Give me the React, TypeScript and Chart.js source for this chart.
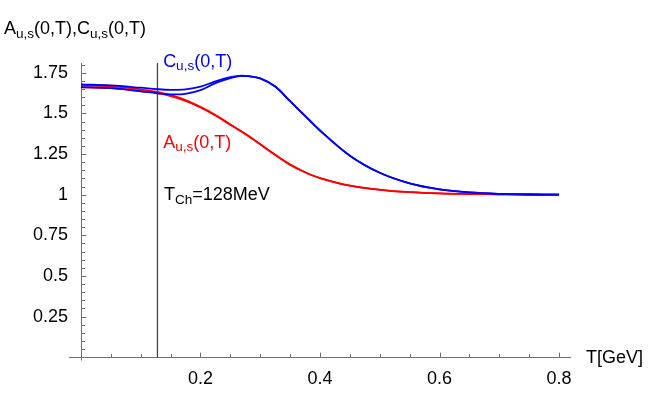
import React, { useEffect, useRef } from "react";
import { Chart, registerables } from "chart.js";
Chart.register(...registerables);

// Temperature grid (GeV)
const T = [0, 0.05, 0.1, 0.128, 0.15, 0.175, 0.2, 0.225, 0.25, 0.265, 0.28, 0.3, 0.325, 0.35, 0.375, 0.4, 0.45, 0.5, 0.55, 0.6, 0.65, 0.7, 0.75, 0.8];
// C_u(0,T), C_s(0,T)  (blue)
const C_U = [1.678, 1.672, 1.658, 1.649, 1.645, 1.648, 1.664, 1.697, 1.723, 1.731, 1.729, 1.715, 1.665, 1.575, 1.485, 1.395, 1.24, 1.135, 1.07, 1.033, 1.014, 1.005, 1.001, 1.0];
const C_S = [1.661, 1.655, 1.636, 1.624, 1.617, 1.62, 1.643, 1.686, 1.717, 1.729, 1.729, 1.715, 1.665, 1.575, 1.485, 1.395, 1.24, 1.135, 1.07, 1.033, 1.014, 1.005, 1.001, 1.0];
// A_u(0,T), A_s(0,T)  (red)
const A_U = [1.672, 1.666, 1.648, 1.632, 1.612, 1.582, 1.54, 1.49, 1.432, 1.398, 1.362, 1.31, 1.245, 1.185, 1.138, 1.102, 1.055, 1.03, 1.016, 1.008, 1.004, 1.002, 1.001, 1.0];
const A_S = [1.66, 1.655, 1.638, 1.624, 1.606, 1.577, 1.536, 1.487, 1.43, 1.397, 1.361, 1.31, 1.245, 1.185, 1.138, 1.102, 1.055, 1.03, 1.016, 1.008, 1.004, 1.002, 1.001, 1.0];
// Chiral temperature marker
const T_CH = 0.128;
const T_CH_LINE_Y = [0, 1.81];

const X_TICKS = [0.2, 0.4, 0.6, 0.8];
const Y_TICKS = [0.25, 0.5, 0.75, 1, 1.25, 1.5, 1.75];
const MINOR_STEP = 0.05;

const FONT = '"Liberation Sans", Arial, Helvetica, sans-serif';
const BLUE = "#0000ff";
const RED = "#ff0000";

type Part = [string, boolean];

function drawRich(ctx: CanvasRenderingContext2D, x: number, y: number, parts: Part[], color: string, size: number, subSize: number) {
  ctx.save();
  ctx.fillStyle = color;
  ctx.textBaseline = "alphabetic";
  ctx.textAlign = "left";
  let cx = x;
  for (const [text, sub] of parts) {
    ctx.font = `${sub ? subSize : size}px ${FONT}`;
    ctx.fillText(text, cx, sub ? y + 3.5 : y);
    cx += ctx.measureText(text).width;
  }
  ctx.restore();
}

const toPts = (ys: number[]) => ys.map((y, i) => ({ x: T[i], y }));

const decoPlugin = {
  id: "deco",
  beforeDatasetsDraw(chart: any) {
    const { ctx } = chart;
    const xs = chart.scales.x;
    const ys = chart.scales.y;
    const x0 = xs.getPixelForValue(0);
    const y0 = ys.getPixelForValue(0);
    ctx.save();
    ctx.strokeStyle = "#707070";
    ctx.lineWidth = 1;
    ctx.beginPath();
    ctx.moveTo(xs.left, Math.round(y0) + 0.5);
    ctx.lineTo(xs.right, Math.round(y0) + 0.5);
    ctx.moveTo(Math.round(x0) + 0.5, ys.bottom);
    ctx.lineTo(Math.round(x0) + 0.5, ys.top);
    // x minor/major ticks (pointing up)
    for (let i = 1; i * MINOR_STEP <= 0.8 + 1e-9; i++) {
      const v = i * MINOR_STEP;
      const major = X_TICKS.some((t) => Math.abs(t - v) < 1e-9);
      const px = Math.round(xs.getPixelForValue(v)) + 0.5;
      ctx.moveTo(px, Math.round(y0));
      ctx.lineTo(px, Math.round(y0) - (major ? 4.5 : 3));
    }
    // y minor/major ticks (pointing right)
    for (let i = 1; i * MINOR_STEP <= 1.8 + 1e-9; i++) {
      const v = i * MINOR_STEP;
      const major = Y_TICKS.some((t) => Math.abs(t - v) < 1e-9);
      const py = Math.round(ys.getPixelForValue(v)) + 0.5;
      ctx.moveTo(Math.round(x0) + 1, py);
      ctx.lineTo(Math.round(x0) + 1 + (major ? 4.5 : 3), py);
    }
    ctx.stroke();
    ctx.restore();
  },
  afterDraw(chart: any) {
    const { ctx } = chart;
    const xs = chart.scales.x;
    const ys = chart.scales.y;
    drawRich(ctx, 4, 34, [["A", false], ["u,s", true], ["(0,T),C", false], ["u,s", true], ["(0,T)", false]], "#000", 18, 13.5);
    drawRich(ctx, 586, 363, [["T[GeV]", false]], "#000", 18, 13.5);
    drawRich(ctx, xs.getPixelForValue(0.1375), ys.getPixelForValue(1.787), [["C", false], ["u,s", true], ["(0,T)", false]], BLUE, 18, 13.5);
    drawRich(ctx, xs.getPixelForValue(0.1375), ys.getPixelForValue(1.288), [["A", false], ["u,s", true], ["(0,T)", false]], RED, 18, 13.5);
    drawRich(ctx, xs.getPixelForValue(0.139), ys.getPixelForValue(0.966), [["T", false], ["Ch", true], ["=128MeV", false]], "#000", 18, 13.5);
  },
};

export default function App() {
  const ref = useRef<HTMLCanvasElement | null>(null);
  useEffect(() => {
    if (!ref.current) return;
    const lineDs = (ys: number[], color: string) => ({
      data: toPts(ys),
      borderColor: color,
      borderWidth: 1.8,
      pointRadius: 0,
      fill: false,
      tension: 0.35,
    });
    const chart = new Chart(ref.current, {
      type: "line",
      data: {
        datasets: [
          lineDs(C_U, BLUE),
          lineDs(C_S, BLUE),
          lineDs(A_U, RED),
          lineDs(A_S, RED),
          {
            data: T_CH_LINE_Y.map((y) => ({ x: T_CH, y })),
            borderColor: "#444444",
            borderWidth: 1.3,
            pointRadius: 0,
            fill: false,
          },
        ],
      },
      options: {
        responsive: false,
        animation: false,
        layout: { padding: { top: 63, right: 83, left: 0, bottom: 0 } },
        plugins: { legend: { display: false }, tooltip: { enabled: false } },
        scales: {
          x: {
            type: "linear",
            min: -0.02,
            max: 0.82,
            grid: { display: false, drawTicks: false },
            border: { display: false },
            afterBuildTicks: (s: any) => {
              s.ticks = X_TICKS.map((v) => ({ value: v }));
            },
            afterFit: (s: any) => {
              s.height = 43.5;
            },
            ticks: {
              padding: 8,
              color: "#000",
              font: { family: FONT, size: 18 },
              autoSkip: false,
              maxRotation: 0,
              callback: (v: any) => String(v),
            },
          },
          y: {
            type: "linear",
            min: -0.02,
            max: 1.81,
            grid: { display: false, drawTicks: false },
            border: { display: false },
            afterBuildTicks: (s: any) => {
              s.ticks = Y_TICKS.map((v) => ({ value: v }));
            },
            afterFit: (s: any) => {
              s.width = 69;
            },
            ticks: {
              padding: 1,
              color: "#000",
              font: { family: FONT, size: 18 },
              autoSkip: false,
              callback: (v: any) => String(v),
            },
          },
        },
      },
      plugins: [decoPlugin],
    });
    return () => chart.destroy();
  }, []);
  return (
    <div style={{ position: "fixed", left: 0, top: 0, width: 654, height: 404, background: "#fff" }}>
      <canvas ref={ref} width={654} height={404} />
    </div>
  );
}
